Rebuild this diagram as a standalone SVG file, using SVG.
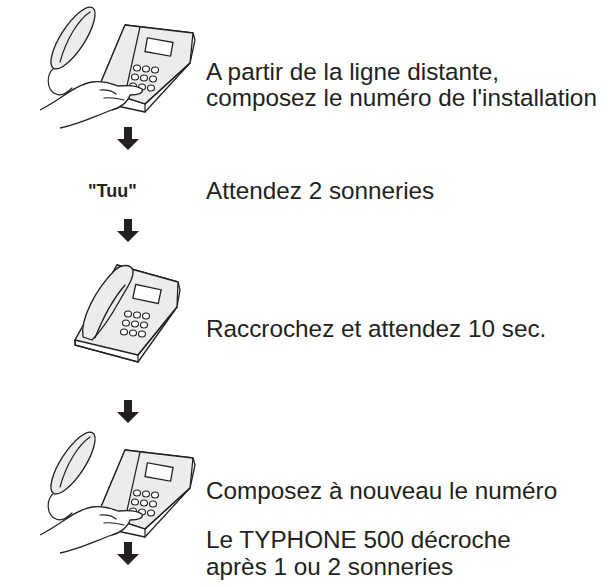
<svg xmlns="http://www.w3.org/2000/svg" xmlns:xlink="http://www.w3.org/1999/xlink" width="615" height="587" viewBox="0 0 615 587">
<style>
.t{font-family:"Liberation Sans",Arial,sans-serif;font-size:24.3px;fill:#231f20}
.o{fill:#ececec;stroke:#231f20;stroke-width:1.3;stroke-linejoin:round}
.w{fill:#fff;stroke:#231f20;stroke-width:1.3;stroke-linejoin:round}
.l{fill:none;stroke:#231f20;stroke-width:1.2;stroke-linecap:round}
.k{fill:#fff;stroke:#231f20;stroke-width:1.1}
</style>
<defs>
<polygon id="arr" points="-4,0 4,0 4,12 11,12 0,23 -11,12 -4,12" fill="#231f20"/>
<g id="keys">
<ellipse class="k" cx="0" cy="0" rx="3.5" ry="3"/><ellipse class="k" cx="9" cy="1" rx="3.5" ry="3"/><ellipse class="k" cx="18" cy="2" rx="3.5" ry="3"/>
<ellipse class="k" cx="-2" cy="9" rx="3.5" ry="3"/><ellipse class="k" cx="7" cy="10" rx="3.5" ry="3"/><ellipse class="k" cx="16" cy="11" rx="3.5" ry="3"/>
<ellipse class="k" cx="-4" cy="18" rx="3.5" ry="3"/><ellipse class="k" cx="5" cy="19" rx="3.5" ry="3"/><ellipse class="k" cx="14" cy="20" rx="3.5" ry="3"/>
</g>
<g id="phoneHand">
<path class="l" d="M54,68 C46,74 46,90 56,94 C62,97 68,92 72,88"/>
<ellipse class="o" cx="73" cy="38" rx="12" ry="36" transform="rotate(33 73 38)"/>
<path class="l" d="M60,62 C66,40 78,20 90,12"/>
<path class="w" d="M125,25 L193,33 L195,40 L190,63 L145,112 L117,106 L101,82 Z"/>
<path class="o" d="M125,25 L193,33 L190,63 L145,104 L108,92 L101,82 Z"/>
<path class="l" d="M140,27 L124,99"/>
<path class="l" d="M101,82 L108,92 L145,104 L145,112 M145,104 L190,63"/>
<rect class="w" x="146" y="40" width="26" height="14" transform="rotate(10 159 47)"/>
<use xlink:href="#keys" x="137" y="68"/>
<path class="w" d="M40,110 C60,100 75,85 92,82 C105,80 112,84 118,86 C128,85 138,86 142,89 C144,93 138,95 130,95 C128,102 120,108 112,110 C95,116 80,124 60,128"/>
<path class="l" d="M100,90 C108,89 114,92 116,94 M104,98 C112,97 120,99 124,100"/>
</g>
</defs>
<g id="step1"><use xlink:href="#phoneHand"/></g>
<g id="connectors">
<use xlink:href="#arr" x="128" y="127"/>
<use xlink:href="#arr" x="128" y="219"/>
<use xlink:href="#arr" x="128" y="400"/>
<use xlink:href="#arr" x="128" y="542"/>
</g>
<g id="step2">
<text class="t" x="88" y="197" style="font-weight:bold;font-size:18px">"Tuu"</text>
</g>
<g id="step3">
<path class="w" d="M117,265 L178,282 L180,290 L177,307 L138,362 L75,345 L75,340 Z"/>
<path class="o" d="M117,265 L178,282 L177,307 L138,355 L75,340 Z"/>
<path class="l" d="M75,340 L75,345 L138,362 L138,355 L177,307"/>
<path class="o" d="M83,337 C80,320 95,290 115,270 C122,264 130,264 133,270 C134,278 128,286 120,300 C110,318 100,332 92,340 Z"/>
<path class="l" d="M95,338 C102,320 112,300 125,285"/>
<rect class="w" x="134" y="287" width="26" height="14" transform="rotate(12 147 294)"/>
<use xlink:href="#keys" x="128" y="314"/>
</g>
<g id="step4"><use xlink:href="#phoneHand" y="425"/></g>
<g id="texts">
<text class="t" x="206" y="80">A partir de la ligne distante,</text>
<text class="t" x="206" y="106">composez le numéro de l'installation</text>
<text class="t" x="206" y="199">Attendez 2 sonneries</text>
<text class="t" x="206" y="337">Raccrochez et attendez 10 sec.</text>
<text class="t" x="206" y="499">Composez à nouveau le numéro</text>
<text class="t" x="206" y="548">Le TYPHONE 500 décroche</text>
<text class="t" x="206" y="575">après 1 ou 2 sonneries</text>
</g>
</svg>
